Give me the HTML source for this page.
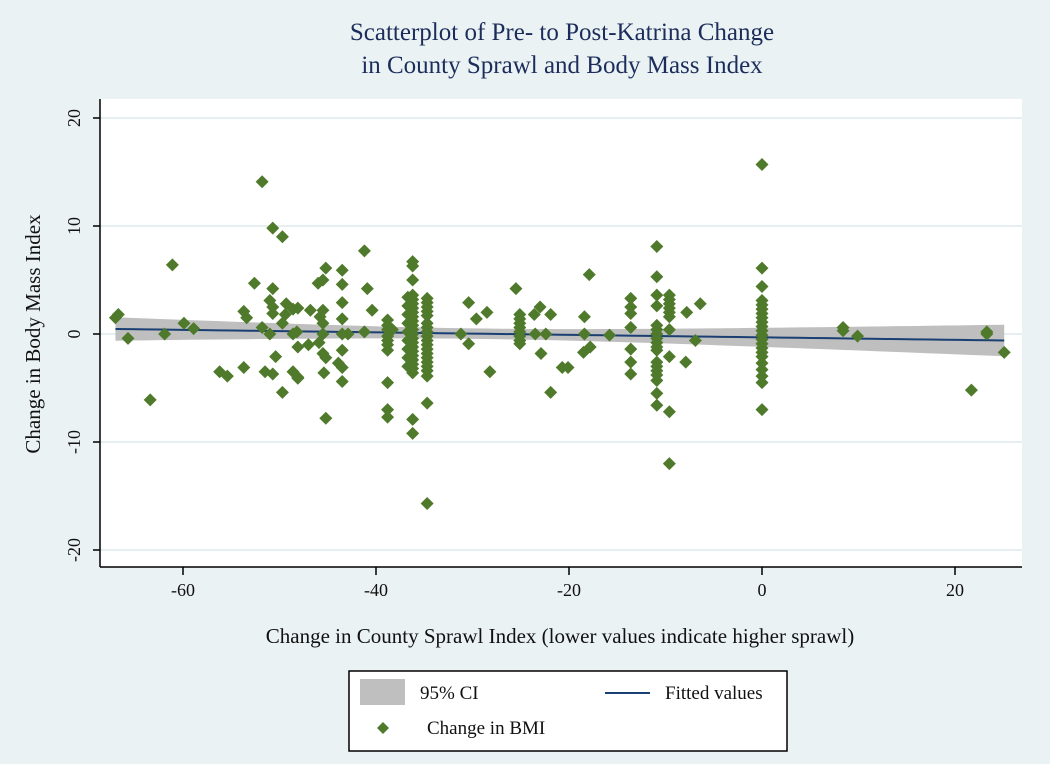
<!DOCTYPE html>
<html><head><meta charset="utf-8"><style>
html,body{margin:0;padding:0;background:#eaf2f3;}
svg{display:block;font-family:"Liberation Serif",serif;}
</style></head><body>
<svg id="chart" width="1050" height="764" viewBox="0 0 1050 764" xmlns="http://www.w3.org/2000/svg">
<rect x="0" y="0" width="1050" height="764" fill="#eaf2f3"/>
<text x="562" y="40" text-anchor="middle" font-size="25" fill="#1c2d5c">Scatterplot of Pre- to Post-Katrina Change</text>
<text x="562" y="73" text-anchor="middle" font-size="25" fill="#1c2d5c">in County Sprawl and Body Mass Index</text>
<rect x="100" y="99" width="922" height="468" fill="#ffffff"/>
<g id="grid"></g>
<g id="band"></g>
<g id="fit"></g>
<g id="pts"></g>
<g id="axes"></g>
<text transform="translate(40,334) rotate(-90)" text-anchor="middle" font-size="21" fill="#111">Change in Body Mass Index</text>
<text x="560" y="643" text-anchor="middle" font-size="21" fill="#111">Change in County Sprawl Index (lower values indicate higher sprawl)</text>
<g>
<rect x="349" y="671" width="438" height="80" fill="#fff" stroke="#000" stroke-width="1.5"/>
<rect x="360" y="679" width="45" height="26" fill="#bfbfbf"/>
<text x="420" y="699" font-size="19" fill="#111">95% CI</text>
<line x1="605" y1="693" x2="650" y2="693" stroke="#1a3f73" stroke-width="2"/>
<text x="665" y="699" font-size="19" fill="#111">Fitted values</text>
<path d="M383 722 L389 728 L383 734 L377 728 Z" fill="#4f7a2b"/>
<text x="427" y="734" font-size="19" fill="#111">Change in BMI</text>
</g>
</svg>
<script>
const xTicks=[-60,-40,-20,0,20];
const yTicks=[-20,-10,0,10,20];
const sprawlChange=[
-67.0,-66.7,-65.7,-63.4,-61.9,-61.1,-59.9,-58.9,-56.2,-55.4,-53.7,-53.7,-53.4,-52.6,-51.8,-51.8,-51.0,-51.5,-50.7,-50.7,-50.7,-50.7,-51.0,-50.7,-50.4,-49.7,-49.7,-49.3,-49.4,-49.7,-48.6,-48.6,-48.2,-48.6,-48.1,-48.1,-48.1,-48.1,-47.0,-46.8,-46.0,-45.5,-45.2,-45.9,-45.5,-45.8,-45.5,-45.5,-45.5,-45.2,-45.4,-45.2,-43.5,-43.5,-43.5,-43.5,-43.5,-42.9,-43.5,-43.9,-43.5,-43.5,-41.2,-40.9,-40.4,-41.2,
-38.8,-38.8,-38.8,-38.8,-38.8,-38.8,-38.8,-38.8,-38.8,-38.8,-38.3,
-36.2,-36.2,-36.2,-36.2,-36.2,-36.2,-36.2,-36.2,-36.2,-36.2,-36.2,-36.2,-36.2,-36.2,-36.2,-36.2,-36.2,-36.2,-36.2,-36.2,-36.2,-36.2,-36.2,-36.2,
-36.7,-36.7,-36.7,-36.7,-36.7,-36.7,-36.7,-36.7,-36.7,
-34.7,-34.7,-34.7,-34.7,-34.7,-34.7,-34.7,-34.7,-34.7,-34.7,-34.7,-34.7,-34.7,-34.7,-34.7,-34.7,-34.7,-34.7,-34.7,-34.7,
-30.4,-29.6,-28.5,-31.2,-30.4,-28.2,
-25.5,-25.1,-25.1,-25.1,-25.1,-25.1,-25.1,-25.1,-25.1,-23.6,-23.0,-23.5,-22.4,-21.9,-22.9,-21.9,
-17.9,-18.4,-18.4,-18.5,-17.8,-20.7,-20.1,-15.8,
-13.6,-13.6,-13.6,-13.6,-13.6,-13.6,-13.6,
-10.9,-10.9,-10.9,-10.9,-10.9,-10.9,-10.9,-10.9,-10.9,-10.9,-10.9,-10.9,-10.9,-10.9,-10.9,-10.9,-10.9,-10.9,
-9.6,-9.6,-9.6,-9.6,-9.6,-9.6,-9.6,-9.6,-9.6,-9.6,
-7.8,-6.4,-6.9,-7.9,
0,0,0,0,0,0,0,0,0,0,0,0,0,0,0,0,0,0,0,0,0,0,
8.4,8.4,9.9,21.7,23.3,23.3,25.1];
const bmiChange=[
1.5,1.8,-0.4,-6.1,0,6.4,1.0,0.5,-3.5,-3.9,-3.1,2.1,1.5,4.7,14.1,0.6,0,-3.5,-3.7,9.8,4.2,2.5,3.1,1.9,-2.1,9.0,-5.4,2.8,1.8,1.0,2.3,0,0.2,-3.5,-4.0,-4.1,2.4,-1.2,-1.0,2.2,4.7,5.0,6.1,-0.8,2.2,1.6,1.0,0,-1.8,-2.2,-3.6,-7.8,5.9,4.6,2.9,1.4,0,0,-1.5,-2.7,-3.1,-4.4,7.7,4.2,2.2,0.2,
1.3,0.8,0.4,-0.2,-0.6,-1.0,-1.5,-4.5,-7.0,-7.7,0.4,
6.7,6.3,5.0,3.6,3.2,2.8,2.4,2.0,1.6,1.2,0.8,0.4,0,-0.4,-0.8,-1.2,-1.6,-2.0,-2.4,-2.8,-3.2,-3.6,-7.9,-9.2,
3.4,2.6,1.8,1.0,0.2,-0.6,-1.4,-2.2,-3.0,
3.3,2.9,2.5,2.1,1.7,1.0,0.6,0.2,-0.2,-0.6,-1.0,-1.4,-1.8,-2.2,-2.6,-3.0,-3.4,-3.9,-6.4,-15.7,
2.9,1.4,2.0,0,-0.9,-3.5,
4.2,1.8,1.4,1.0,0.6,0.2,-0.2,-0.6,-0.9,1.8,2.5,0,0,1.8,-1.8,-5.4,
5.5,1.6,0,-1.7,-1.2,-3.1,-3.1,-0.1,
3.3,2.5,1.9,0.6,-1.4,-2.6,-3.7,
8.1,5.3,3.6,2.6,0.8,0.4,0,-0.4,-0.8,-1.2,-1.5,-2.6,-3.0,-3.4,-3.8,-4.3,-5.5,-6.6,
3.6,3.2,2.8,2.4,2.0,1.6,0.4,-2.1,-7.2,-12.0,
2.0,2.8,-0.6,-2.6,
15.7,6.1,4.4,3.1,2.7,2.3,1.9,1.5,1.1,0.7,0.3,-0.1,-0.5,-0.9,-1.3,-1.7,-2.1,-2.7,-3.3,-3.9,-4.5,-7.0,
0.6,0.3,-0.2,-5.2,0.2,0,-1.7];

const NS='http://www.w3.org/2000/svg';
const X0=762, XS=9.65, Y0=334, YS=10.8;
function sx(v){return X0+v*XS;}
function sy(v){return Y0-v*YS;}
function mk(tag,attrs,parent){const e=document.createElementNS(NS,tag);for(const k in attrs)e.setAttribute(k,attrs[k]);parent.appendChild(e);return e;}

const grid=document.getElementById('grid'), axes=document.getElementById('axes');
yTicks.forEach(t=>{
  const g=mk('line',{x1:100,x2:1022,y1:sy(t),y2:sy(t),stroke:'#e6efef','stroke-width':2},grid);
  
  
  const tk=mk('line',{x1:93,x2:100,y1:sy(t),y2:sy(t),stroke:'#000','stroke-width':1.5},axes);
  
  
  const lb=mk('text',{transform:`translate(80,${sy(t)}) rotate(-90)`,'text-anchor':'middle','font-size':18,fill:'#111'},axes);
  lb.textContent=t;
  
  
});
xTicks.forEach(t=>{
  const tk=mk('line',{x1:sx(t),x2:sx(t),y1:567,y2:575,stroke:'#000','stroke-width':1.5},axes);
  
  
  const lb=mk('text',{x:sx(t),y:596,'text-anchor':'middle','font-size':18,fill:'#111'},axes);
  lb.textContent=t;
  
  
});
const yAx=mk('line',{x1:100,x2:100,y1:99,y2:567,stroke:'#000','stroke-width':1.5},axes);


const xAx=mk('line',{x1:100,x2:1022,y1:567,y2:567,stroke:'#000','stroke-width':1.5},axes);



const n=Math.min(sprawlChange.length,bmiChange.length);
let mx=0,my=0;for(let i=0;i<n;i++){mx+=sprawlChange[i];my+=bmiChange[i];}mx/=n;my/=n;
let sxx=0,sxy=0;for(let i=0;i<n;i++){sxx+=(sprawlChange[i]-mx)**2;sxy+=(sprawlChange[i]-mx)*(bmiChange[i]-my);}
const b=sxy/sxx,a=my-b*mx;
let sse=0;for(let i=0;i<n;i++){sse+=(bmiChange[i]-a-b*sprawlChange[i])**2;}
const s=Math.sqrt(sse/(n-2));
const xmin=Math.min(...sprawlChange.slice(0,n)),xmax=Math.max(...sprawlChange.slice(0,n));
const up=[],lo=[],mid=[];
for(let k=0;k<=60;k++){const xv=xmin+(xmax-xmin)*k/60;const f=a+b*xv;const se=s*Math.sqrt(1/n+(xv-mx)**2/sxx);
  up.push([sx(xv),sy(f+1.96*se)]);lo.push([sx(xv),sy(f-1.96*se)]);mid.push([sx(xv),sy(f)]);}
const band=mk('path',{d:'M'+up.map(p=>p.join(' ')).join(' L')+' L'+lo.reverse().map(p=>p.join(' ')).join(' L')+' Z',fill:'#bfbfbf'},document.getElementById('band'));


const fit=mk('path',{d:'M'+mid.map(p=>p.join(' ')).join(' L'),fill:'none',stroke:'#1a3f73','stroke-width':2},document.getElementById('fit'));



const pts=document.getElementById('pts');
const R=6.5;
for(let i=0;i<n;i++){
  const cx=sx(sprawlChange[i]),cy=sy(bmiChange[i]);
  const p=mk('path',{d:`M${cx} ${cy-R} L${cx+R} ${cy} L${cx} ${cy+R} L${cx-R} ${cy} Z`,fill:'#4f7a2b'},pts);
  
  
}
</script>
</body></html>
